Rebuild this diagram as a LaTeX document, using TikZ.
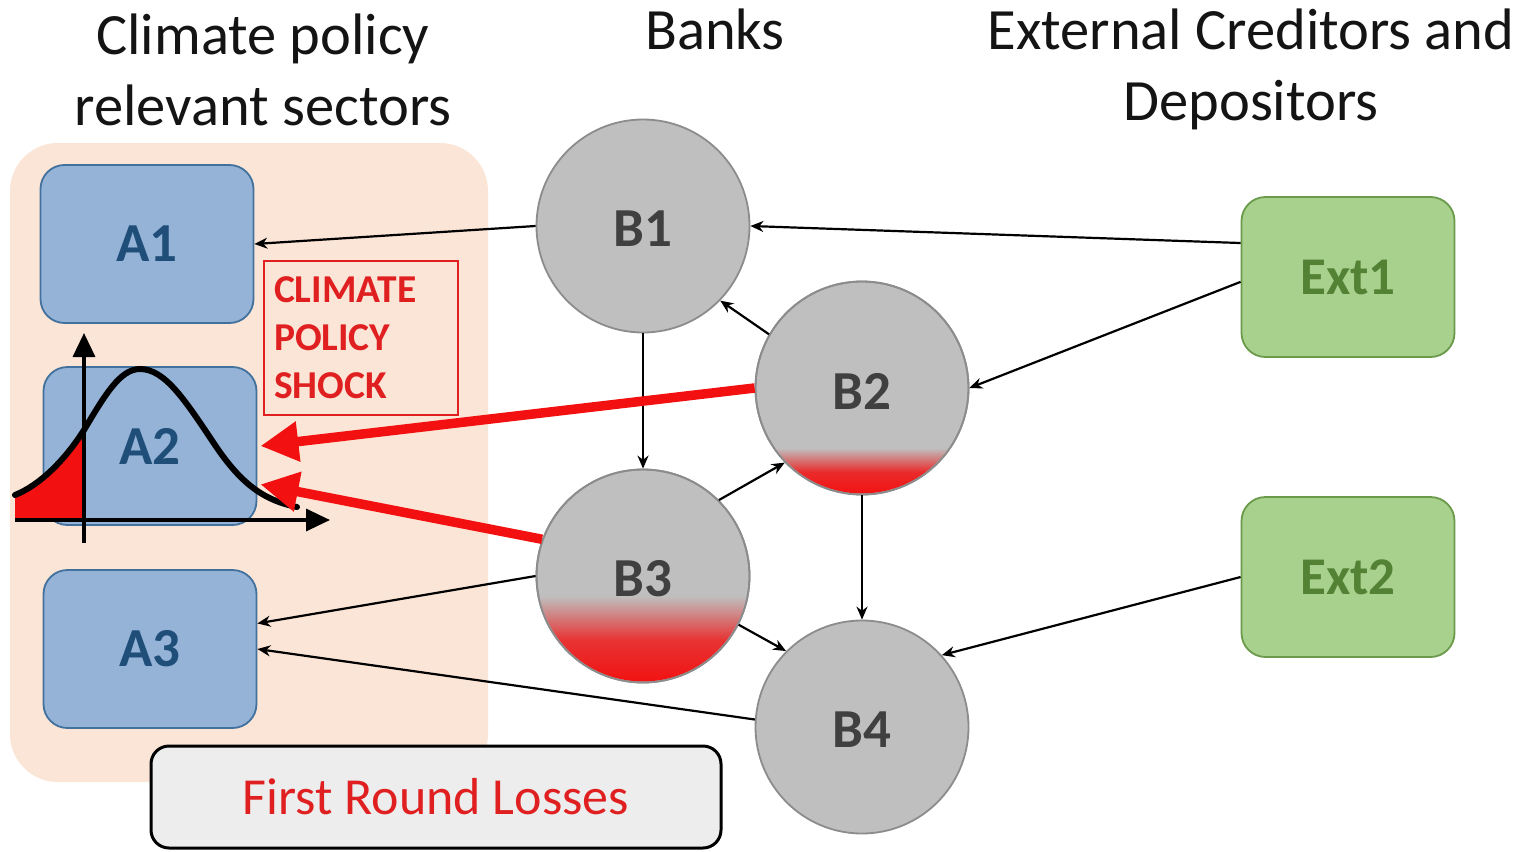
\documentclass[tikz,border=0pt]{standalone}
\usepackage{fontspec}
\setmainfont{Carlito}
\usetikzlibrary{arrows.meta,calc}

\definecolor{peach}{HTML}{FBE5D6}
\definecolor{sectorfill}{HTML}{95B3D7}
\definecolor{sectordraw}{HTML}{41719C}
\definecolor{sectortext}{HTML}{1F4E79}
\definecolor{bankfill}{HTML}{BFBFBF}
\definecolor{bankdraw}{HTML}{8C8C8C}
\definecolor{banktext}{HTML}{404040}
\definecolor{extfill}{HTML}{A9D18E}
\definecolor{extdraw}{HTML}{6A9A4A}
\definecolor{exttext}{HTML}{548235}
\definecolor{shockred}{HTML}{E02020}
\definecolor{lossfill}{HTML}{EDEDED}
\definecolor{arrowred}{HTML}{F21010}

\tikzset{
  title/.style={anchor=base, align=center, font=\fontsize{58.5}{70}\selectfont, text=black!92},
  sector/.style={draw=sectordraw, line width=1.8pt, fill=sectorfill, rounded corners=24pt,
    minimum width=213pt, minimum height=158pt, text=sectortext,
    font=\bfseries\fontsize{55}{60}\selectfont},
  banklabel/.style={text=banktext, font=\bfseries\fontsize{55}{60}\selectfont, yshift=-3pt},
  bank/.style={circle, draw=bankdraw, line width=1.8pt, fill=bankfill, minimum size=213pt,
    inner sep=0pt},
  ext/.style={draw=extdraw, line width=1.8pt, fill=extfill, rounded corners=24pt,
    minimum width=213pt, minimum height=160pt, text=exttext,
    font=\bfseries\fontsize{53}{60}\selectfont},
  link/.style={-{Stealth[length=13pt,width=11pt]}, line width=2.2pt, black},
  redlink/.style={-{Triangle[length=38pt,width=38pt]}, line width=9.5pt, arrowred},
}

\begin{document}
\begin{tikzpicture}[x=1pt,y=-1pt]
\useasboundingbox (0,0) rectangle (1530,851);
\fill[white] (0,0) rectangle (1530,851);

% column headings
\node[title] (h1) at (263,55) {Climate policy};
\node[title] (h2) at (263,125) {relevant sectors};
\node[title] (h3) at (715,49) {Banks};
\node[title] (h4) at (1251,50) {External Creditors and};
\node[title] (h5) at (1251,120) {Depositors};

% sector panel
\fill[peach, rounded corners=48pt] (10,143) rectangle (488,782);

% sectors
\node[sector] (A1) at (147,244) {A1};
\node[sector] (A2) at (150,446) {A2};
\node[sector] (A3) at (150,649) {A3};

% loss distribution over A2
\fill[arrowred] (15,495) .. controls (40,485) and (65,460) .. (84,430) -- (84,520) -- (15,520) -- cycle;
\draw[line width=3.5pt, -{Triangle[length=24pt,width=22pt]}] (15,520) -- (330,520);
\draw[line width=3.5pt, -{Triangle[length=24pt,width=22pt]}] (84,543) -- (84,333);
\draw[line width=6pt, line cap=round] (15,495)
  .. controls (40,485) and (65,460) .. (84,430)
  .. controls (105,395) and (120,369) .. (140,369)
  .. controls (165,369) and (185,400) .. (215,445)
  .. controls (240,482) and (262,500) .. (297,507);

% shock label
\node[draw=shockred, line width=1.4pt, minimum width=194pt, minimum height=154pt,
      text width=174pt, align=left, text=shockred,
      font=\bfseries\fontsize{39.5}{48}\selectfont] (shock) at (361,338)
  {CLIMATE\\POLICY\\SHOCK};

% banks
\node[bank] (B1) at (643,226) {};
\node[bank] (B2) at (862,388) {};
\node[bank] (B3) at (643,576) {};
\node[bank] (B4) at (862,727) {};

% first round losses shaded into B2 and B3
\begin{scope}
  \clip (B2) circle (105.5pt);
  \shade[top color=bankfill, bottom color=arrowred, middle color=arrowred!85!bankfill]
    (750,448) rectangle (975,496);
\end{scope}
\begin{scope}
  \clip (B3) circle (105.5pt);
  \shade[top color=bankfill, bottom color=arrowred, middle color=arrowred!80!bankfill]
    (530,596) rectangle (760,684);
\end{scope}
\draw[bankdraw, line width=1.8pt] (B2) circle (106.5pt);
\draw[bankdraw, line width=1.8pt] (B3) circle (106.5pt);

\node[banklabel] (L1) at (B1) {B1};
\node[banklabel] (L2) at (B2) {B2};
\node[banklabel] (L3) at (B3) {B3};
\node[banklabel] (L4) at (B4) {B4};

% external creditors
\node[ext] (Ext1) at (1348,277) {Ext1};
\node[ext] (Ext2) at (1348,577) {Ext2};

% exposures
\draw[link] ($(Ext1.north west)!0.29!(Ext1.south west)$) -- (B1.east);
\draw[link] ($(Ext1.north west)!0.53!(Ext1.south west)$) -- (B2.east);
\draw[link] (Ext2.west) -- (B4.42);
\draw[link] (B1.west) -- (A1.east);
\draw[link] (B1.south) -- (B3.north);
\draw[link] (B2.south) -- (B4.north);
\draw[link] (B2.150) -- (B1.-44);
\draw[link] (B3.45) -- (B2.224);
\draw[link] (B3.-27) -- (B4.135);
\draw[link] (B3.west) -- ($(A3.north east)!0.34!(A3.south east)$);
\draw[link] (B4.176) -- (A3.east);

% shock transmission
\draw[redlink] (B2.west) -- ($(A2.north east)!0.5!(A2.south east)+(3,0)$);
\draw[redlink] (B3.160) -- ($(A2.north east)!0.74!(A2.south east)+(3,0)$);

% legend
\node[draw=black, line width=3pt, fill=lossfill, rounded corners=18pt,
      minimum width=570pt, minimum height=102pt, text=shockred,
      font=\fontsize{52}{60}\selectfont] (loss) at (436,797) {First Round Losses};
\end{tikzpicture}
\end{document}
